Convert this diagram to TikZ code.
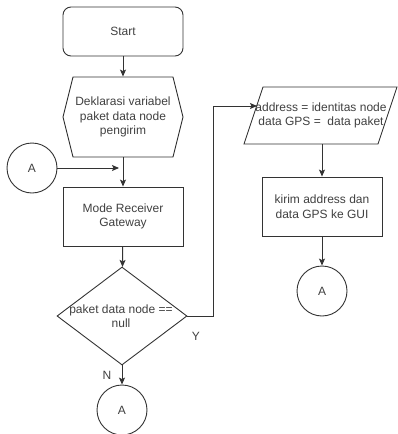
\documentclass[tikz,border=0pt]{standalone}
\usepackage{fontspec}
\setmainfont{Liberation Sans}
\usetikzlibrary{shapes.geometric,arrows.meta}
\begin{document}
\begin{tikzpicture}[x=1pt,y=-1pt,
  line width=0.9pt,
  lc/.style={draw=black!80},
  txt/.style={text=black!75,font=\fontsize{12}{14.5}\selectfont,align=center,inner sep=0pt},
  box/.style={lc,rectangle,minimum width=120pt,inner sep=0pt,txt},
  conn/.style={circle,lc,minimum size=50pt,inner sep=0pt,txt},
  arr/.style={lc,-{Stealth[length=7pt,width=6pt,inset=1.5pt]}},
  ln/.style={lc}]
\useasboundingbox (0,0) rectangle (398,434);
% Start
\node[box,rounded corners=8pt,minimum height=49pt] (start) at (123,31.5) {Start};
% Hexagon
\draw[lc] (63,117) -- (73,77) -- (173,77) -- (183,117) -- (173,157) -- (73,157) -- cycle;
\node[txt,minimum width=120pt,minimum height=80pt] (hex) at (123,117) {Deklarasi variabel\\paket data node\\pengirim};
% Mode
\node[box,minimum height=59pt] (mode) at (123,216.5) {Mode Receiver\\Gateway};
% Decision
\node[diamond,lc,minimum width=130pt,minimum height=98pt,inner sep=0pt] (dec) at (122,316) {};
\node[txt] (dectext) at (121,316) {paket data node ==\\null};
% Left connector
\node[conn] (ca) at (32,168) {A};
\coordinate (cjoin) at (119,168);
% Bottom connector
\node[conn] (cb) at (122,410) {A};
% Parallelogram
\draw[lc] (263,87) -- (397,87) -- (378,144) -- (244,144) -- cycle;
\node[txt,minimum width=134pt,minimum height=57pt] (par) at (321,115.5) {address = identitas node\\data GPS = \ data paket};
\coordinate (parin) at (257,106);
% Kirim
\node[box,minimum height=59pt] (kirim) at (322,206.5) {kirim address dan\\data GPS ke GUI};
% Right connector
\node[conn] (cc) at (322,291) {A};
% Connectors
\draw[arr] (start) -- (hex);
\draw[arr] (hex) -- (mode);
\draw[arr] (ca) -- (cjoin);
\draw[arr] (mode) -- (dec);
\draw[arr] (dec) -- (cb);
\draw[arr] (dec.east) -- (213,316) |- (parin);
\draw[arr] (322,144) -- (kirim);
\draw[arr] (kirim) -- (cc);
% Labels
\node[txt] (lblN) at (107,375) {N};
\node[txt] (lblY) at (196,336) {Y};
\end{tikzpicture}
\end{document}
